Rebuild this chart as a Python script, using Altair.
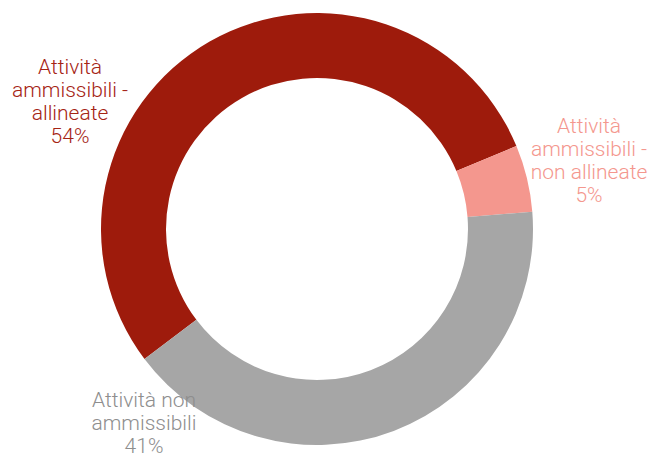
import altair as alt
import pandas as pd

categories = ["Attività ammissibili - allineate", "Attività ammissibili - non allineate", "Attività non ammissibili"]
values = [54, 5, 41]
label_lines = [
    ["Attività", "ammissibili -", "allineate", "54%"],
    ["Attività", "ammissibili -", "non allineate", "5%"],
    ["Attività non", "ammissibili", "41%"],
]
ring_colors = ["#9E1B0C", "#F4978E", "#A6A6A6"]
text_colors = ["#A52414", "#F4978E", "#8E8E8E"]

df = pd.DataFrame({
    "cat": categories,
    "val": values,
    "order": [0, 1, 2],
    "label": label_lines,
})

start = 233.0 * 3.14159265 / 180.0
theta_scale = alt.Scale(range=[start, start + 2 * 3.14159265])
color_scale = alt.Scale(domain=categories, range=ring_colors)
text_scale = alt.Scale(domain=categories, range=text_colors)

base = alt.Chart(df)

ring = base.mark_arc(innerRadius=151, outerRadius=216, strokeWidth=0).encode(
    theta=alt.Theta("val:Q", stack=True, scale=theta_scale),
    order=alt.Order("order:Q"),
    color=alt.Color("cat:N", scale=color_scale, legend=None),
    x=alt.value(309),
    y=alt.value(221),
)

label_pos = [(62, 60), (581, 119), (136, 393)]
layers = [ring]
for i, cat in enumerate(categories):
    px, py = label_pos[i]
    t = base.transform_filter(alt.datum.cat == cat).mark_text(
        font="Roboto", fontWeight=300, fontSize=21, lineHeight=23,
        align="center", baseline="middle",
    ).encode(
        text="label",
        color=alt.Color("cat:N", scale=text_scale, legend=None),
        x=alt.value(px),
        y=alt.value(py),
    )
    layers.append(t)

chart = alt.layer(*layers).resolve_scale(color="independent").properties(
    width=644, height=452, padding=0, autosize="none"
).configure_view(stroke=None)

chart.save("out.html", embed_options={"renderer": "svg", "actions": False})
